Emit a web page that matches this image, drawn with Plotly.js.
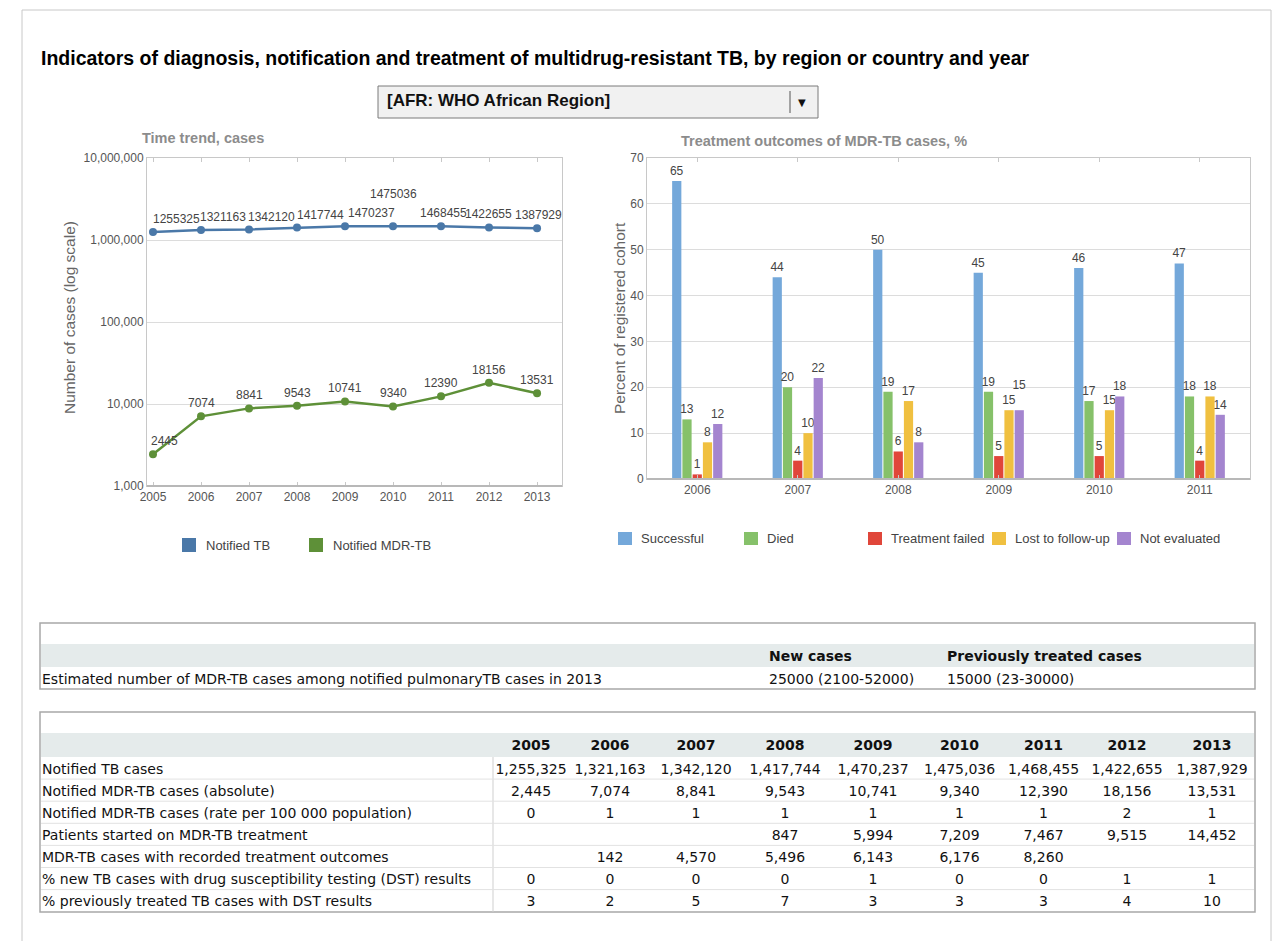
<!DOCTYPE html>
<html><head><meta charset="utf-8">
<script src="https://cdn.plot.ly/plotly-3.0.1.min.js"></script>
<style>html,body{margin:0;padding:0;background:#fff;}#chart{width:1277px;height:941px;}</style>
</head><body><div id="chart"></div>
<script>
// ---------- DATA ----------
const years = [2005, 2006, 2007, 2008, 2009, 2010, 2011, 2012, 2013];
const notifiedTB = [1255325, 1321163, 1342120, 1417744, 1470237, 1475036, 1468455, 1422655, 1387929];
const notifiedMDR = [2445, 7074, 8841, 9543, 10741, 9340, 12390, 18156, 13531];
const mdrRate = [0, 1, 1, 1, 1, 1, 1, 2, 1];
const startedTreatment = [null, null, null, 847, 5994, 7209, 7467, 9515, 14452];
const recordedOutcomes = [null, 142, 4570, 5496, 6143, 6176, 8260, null, null];
const pctNewDST = [0, 0, 0, 0, 1, 0, 0, 1, 1];
const pctPrevDST = [3, 2, 5, 7, 3, 3, 3, 4, 10];

const outcomeYears = ['2006', '2007', '2008', '2009', '2010', '2011'];
const successful = [65, 44, 50, 45, 46, 47];
const died = [13, 20, 19, 19, 17, 18];
const failed = [1, 4, 6, 5, 5, 4];
const lost = [8, 10, 17, 15, 15, 18];
const notEvaluated = [12, 22, 8, 15, 18, 14];

const rowLabels = [
  'Notified TB cases',
  'Notified MDR-TB cases (absolute)',
  'Notified MDR-TB cases (rate per 100 000 population)',
  'Patients started on MDR-TB treatment',
  'MDR-TB cases with recorded treatment outcomes',
  '% new TB cases with drug susceptibility testing (DST) results',
  '% previously treated TB cases with DST results'
];
const estLabel = 'Estimated number of MDR-TB cases among notified pulmonaryTB cases in 2013';
const estHeaders = ['New cases', 'Previously treated cases'];
const estNew = '25000 (2100-52000)';
const estPrev = '15000 (23-30000)';

// ---------- STYLE ----------
const W = 1277, H = 941;
const X = p => p / W, Y = p => 1 - p / H;
const FONT = 'Liberation Sans, Arial, sans-serif';
const TFONT = 'DejaVu Sans, Verdana, sans-serif';
const tbColor = '#4a78a8', mdrColor = '#5e9038';
const barColors = ['#74a8da', '#86c16a', '#e0463a', '#f0c040', '#a485cf'];
const barNames = ['Successful', 'Died', 'Treatment failed', 'Lost to follow-up', 'Not evaluated'];
const barSeries = [successful, died, failed, lost, notEvaluated];
// label lifts (style only): 1 = label raised one line to avoid overlapping its neighbour
const barLabelLift = [[0,0,0,0,0,0],[0,0,0,0,0,0],[0,0,0,0,0,0],[0,0,0,0,0,0],[0,0,0,1,0,0]];
const tbDx = [23, 22, 22, 23, 26, 0, 2, -1, 1];
const tbDy = [13, 13, 13, 13, 13, 32, 13, 13, 13];
const mdrDx = [11, 0, 0, 0, 0, 0, 0, 0, 0];

const traces = [];
traces.push({type: 'scatter', mode: 'lines+markers', x: years, y: notifiedTB, name: 'Notified TB',
  line: {color: tbColor, width: 2.5}, marker: {size: 8, color: tbColor}, xaxis: 'x', yaxis: 'y', hoverinfo: 'skip'});
traces.push({type: 'scatter', mode: 'lines+markers', x: years, y: notifiedMDR, name: 'Notified MDR-TB',
  line: {color: mdrColor, width: 2.5}, marker: {size: 8, color: mdrColor}, xaxis: 'x', yaxis: 'y', hoverinfo: 'skip'});
barSeries.forEach((s, i) => traces.push({type: 'bar', x: outcomeYears, y: s, name: barNames[i],
  marker: {color: barColors[i]}, text: s.map((v, k) => barLabelLift[i][k] ? String(v) + '<br>&nbsp;' : String(v)),
  textposition: 'outside', constraintext: 'none', cliponaxis: false,
  textfont: {family: FONT, size: 12, color: '#444'}, xaxis: 'x2', yaxis: 'y2', hoverinfo: 'skip'}));

const fmt = v => (v === null ? '' : v.toLocaleString('en-US'));
const tableCols = [rowLabels].concat(years.map((y, j) => [notifiedTB[j], notifiedMDR[j], mdrRate[j], startedTreatment[j], recordedOutcomes[j], pctNewDST[j], pctPrevDST[j]].map(fmt)));
const clear = 'rgba(0,0,0,0)';
traces.push({type: 'table', domain: {x: [X(34), X(1255)], y: [Y(920), Y(731)]},
  columnwidth: [459, 76, 82, 90, 88, 88, 85, 83, 84, 86],
  header: {values: [''].concat(years.map(String)), align: ['left'].concat(years.map(() => 'center')), height: 24,
    fill: {color: clear}, line: {color: clear, width: 0}, font: {family: TFONT, size: 14, color: '#111', weight: 'bold'}},
  cells: {values: tableCols, align: ['left'].concat(years.map(() => 'center')), height: 22,
    fill: {color: clear}, line: {color: clear, width: 0}, font: {family: TFONT, size: 14, color: '#111'}}
});
traces.push({type: 'table', domain: {x: [X(34), X(1255)], y: [Y(700), Y(642)]},
  columnwidth: [727, 178, 316],
  header: {values: [''].concat(estHeaders), align: 'left', height: 23,
    fill: {color: clear}, line: {color: clear, width: 0}, font: {family: TFONT, size: 14, color: '#111', weight: 'bold'}},
  cells: {values: [[estLabel], [estNew], [estPrev]], align: 'left', height: 22,
    fill: {color: clear}, line: {color: clear, width: 0}, font: {family: TFONT, size: 14, color: '#111'}}
});

// ---------- SHAPES ----------
const px = (x0, y0, x1, y1, o) => Object.assign({type: 'rect', xref: 'paper', yref: 'paper', x0: X(x0), x1: X(x1), y0: Y(y0), y1: Y(y1), layer: 'below'}, o);
const ln = (x0, y0, x1, y1, o) => Object.assign(px(x0, y0, x1, y1, o), {type: 'line'});
const shapes = [
  px(22, 10, 1271, 945, {line: {color: '#c8c8c8', width: 1}}),
  px(378, 86, 818, 118, {fillcolor: '#f1f1f1', line: {color: '#7a7a7a', width: 1}}),
  ln(790, 91, 790, 113, {line: {color: '#555', width: 1}}),
  // table 1
  px(40, 623, 1255, 689, {line: {color: '#a8a8a8', width: 1.5}}),
  px(41, 644, 1254, 667, {fillcolor: '#e5ebeb', line: {width: 0}}),
  // table 2
  px(40, 712, 1255, 912, {line: {color: '#a8a8a8', width: 1.5}}),
  px(41, 733, 1254, 757, {fillcolor: '#e5ebeb', line: {width: 0}}),
  ln(493, 757, 493, 912, {line: {color: '#cfcfcf', width: 1}}),
  // bottom axis emphasis
  ln(147, 486, 562, 486, {line: {color: '#b8b8b8', width: 2}, layer: 'above'}),
  ln(647, 479, 1250, 479, {line: {color: '#b8b8b8', width: 2}, layer: 'above'})
];
for (let k = 1; k < 7; k++) {
  const yy = 757 + k * 22.1;
  shapes.push(ln(41, yy, 1254, yy, {line: {color: '#e2e2e2', width: 1}}));
}
const leg = [[182, 545, tbColor, 'Notified TB'], [309, 545, mdrColor, 'Notified MDR-TB']];
const leg2 = [[618, 'Successful'], [744, 'Died'], [868, 'Treatment failed'], [992, 'Lost to follow-up'], [1117, 'Not evaluated']];

// ---------- ANNOTATIONS ----------
const A = (text, x, y, o) => Object.assign({text, xref: 'paper', yref: 'paper', x: X(x), y: Y(y), showarrow: false, xanchor: 'left', yanchor: 'middle',
  font: {family: FONT, size: 12, color: '#444'}}, o);
const annotations = [
  A('Indicators of diagnosis, notification and treatment of multidrug-resistant TB, by region or country and year', 39, 58, {font: {family: FONT, size: 19.5, color: '#000', weight: 'bold'}}),
  A('[AFR: WHO African Region]', 385, 101, {font: {family: FONT, size: 17, color: '#111', weight: 'bold'}}),
  A('▼', 802, 102, {xanchor: 'center', font: {family: TFONT, size: 10, color: '#111'}}),
  A('Time trend, cases', 140, 138, {font: {family: FONT, size: 14.5, color: '#8c8c8c', weight: 'bold'}}),
  A('Treatment outcomes of MDR-TB cases, %', 679, 141, {font: {family: FONT, size: 14.5, color: '#8c8c8c', weight: 'bold'}}),
  A('Number of cases (log scale)', 69, 318, {xanchor: 'center', textangle: -90, font: {family: FONT, size: 15.5, color: '#666'}}),
  A('Percent of registered cohort', 619, 318, {xanchor: 'center', textangle: -90, font: {family: FONT, size: 15.5, color: '#666'}})
];
years.forEach((yr, i) => {
  annotations.push({xref: 'x', yref: 'y', x: yr, y: Math.log10(notifiedTB[i]), text: String(notifiedTB[i]), showarrow: false,
    xshift: tbDx[i], yshift: tbDy[i], font: {family: FONT, size: 12, color: '#444'}});
  annotations.push({xref: 'x', yref: 'y', x: yr, y: Math.log10(notifiedMDR[i]), text: String(notifiedMDR[i]), showarrow: false,
    xshift: mdrDx[i], yshift: 13, font: {family: FONT, size: 12, color: '#444'}});
});
leg.forEach(([x, y, c, t]) => {
  shapes.push(px(x, y - 7, x + 14, y + 7, {fillcolor: c, line: {width: 0}}));
  annotations.push(A(t, x + 22, y, {font: {family: FONT, size: 13, color: '#444'}}));
});
leg2.forEach(([x, t], i) => {
  shapes.push(px(x, 532, x + 14, 545, {fillcolor: barColors[i], line: {width: 0}}));
  annotations.push(A(t, x + 21, 538, {font: {family: FONT, size: 13, color: '#444'}}));
});

const axBase = {showline: true, linecolor: '#c8c8c8', linewidth: 1, zeroline: false, fixedrange: true,
  tickfont: {family: FONT, size: 12, color: '#555'}};
const layout = {
  width: W, height: H, margin: {l: 0, r: 0, t: 0, b: 0}, autosize: false,
  paper_bgcolor: '#fff', plot_bgcolor: '#fff', showlegend: false,
  font: {family: FONT, size: 12, color: '#444'},
  xaxis: Object.assign({}, axBase, {domain: [X(147), X(562)], anchor: 'y', range: [2004.875, 2013.52], tickvals: years,
    ticks: 'inside', ticklen: 4, tickcolor: '#c8c8c8', mirror: 'ticks', showgrid: false}),
  yaxis: Object.assign({}, axBase, {domain: [Y(486), Y(158)], anchor: 'x', type: 'log', range: [3, 7], dtick: 1, tickformat: ',',
    showgrid: true, gridcolor: '#dcdcdc', mirror: true, ticks: ''}),
  xaxis2: Object.assign({}, axBase, {domain: [X(647), X(1250)], anchor: 'y2', type: 'category',
    ticks: 'inside', ticklen: 4, tickcolor: '#c8c8c8', mirror: 'ticks', showgrid: false}),
  yaxis2: Object.assign({}, axBase, {domain: [Y(479), Y(158)], anchor: 'x2', range: [0, 70], dtick: 10,
    showgrid: true, gridcolor: '#dcdcdc', mirror: true, ticks: ''}),
  barmode: 'group', bargap: 0.49, bargroupgap: 0.1,
  shapes, annotations
};
Plotly.newPlot('chart', traces, layout, {displayModeBar: false, staticPlot: true});
</script></body></html>
